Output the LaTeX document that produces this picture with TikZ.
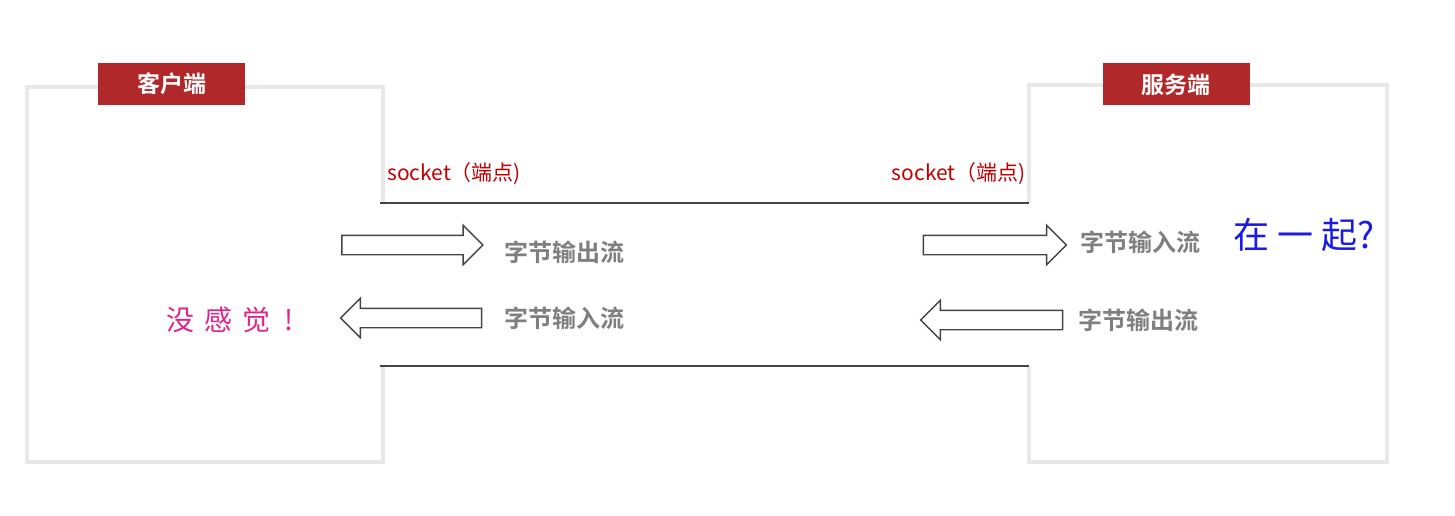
\documentclass[tikz,border=0pt]{standalone}
\usepackage{fontspec}
\setmainfont{Noto Sans CJK SC}
\newfontfamily\cjkbold{Noto Sans CJK SC Bold}
\newfontfamily\cjkmedium{Noto Sans CJK SC Medium}
\usetikzlibrary{positioning}
\usetikzlibrary{shapes.arrows}
\definecolor{titlered}{HTML}{B0282A}
\definecolor{socketred}{HTML}{C00000}
\definecolor{flowgray}{HTML}{7F7F7F}
\definecolor{linegray}{HTML}{444444}
\definecolor{handblue}{HTML}{1A1AE6}
\definecolor{handpink}{HTML}{E0248A}

\tikzset{
  titlebox/.style={rectangle, fill=titlered, text=white, font=\cjkbold\fontsize{23}{26}\selectfont,
    minimum width=147pt, minimum height=42pt, inner sep=0pt},
  frame/.style={draw=black!9, line width=4pt},
  channel/.style={draw=linegray, line width=1.6pt},
  socketlbl/.style={text=socketred, font=\fontsize{21}{24}\selectfont, inner sep=0pt},
  flowarrow/.style={single arrow, draw=linegray, line width=1.4pt, fill=white, inner xsep=0pt, inner ysep=9pt,
    minimum height=141pt, single arrow head extend=10pt},
  flowlbl/.style={text=flowgray, font=\cjkbold\fontsize{24}{26}\selectfont, inner sep=0pt},
}

\begin{document}
\begin{tikzpicture}[x=1pt, y=-1pt]

    \useasboundingbox (0,0) rectangle (1455,516);

    % Frames of both sides
    \draw[frame] (383,203) -- (383,87) -- (27,87) -- (27,462) -- (383,462) -- (383,366);
    \draw[frame] (1029,203) -- (1029,85) -- (1387,85) -- (1387,462) -- (1029,462) -- (1029,366);

    % Titles
    \node[titlebox] (client) at (171.5,84) {客户端};
    \node[titlebox] (server) at (1176,84.5) {服务端};

    % Socket channel
    \coordinate (ctop) at (380,203);
    \coordinate (stop) at (1029,203);
    \coordinate (cbot) at (380,366);
    \coordinate (sbot) at (1029,366);
    \draw[channel] (ctop) -- (stop);
    \draw[channel] (cbot) -- (sbot);

    \node[socketlbl, anchor=south west] (csocket) at ([xshift=7pt, yshift=18pt]ctop) {socket（端点)};
    \node[socketlbl, anchor=south east] (ssocket) at ([xshift=-3pt, yshift=18pt]stop) {socket（端点)};

    % Client streams
    \node[flowarrow] (cout) at (407.5,245) {};
    \node[flowarrow, shape border rotate=180] (cin) at (416,318) {};
    \node[flowlbl, right=20pt of cout, yshift=-7pt] (coutlbl) {字节输出流};
    \node[flowlbl, right=22pt of cin] (cinlbl) {字节输入流};

    % Server streams
    \node[flowarrow, minimum height=143pt] (sin) at (990,245) {};
    \node[flowarrow, minimum height=142pt, shape border rotate=180] (sout) at (996.5,320) {};
    \node[flowlbl, right=13pt of sin, yshift=3pt] (sinlbl) {字节输入流};
    \node[flowlbl, right=15pt of sout] (soutlbl) {字节输出流};

    % Remarks
    \node[text=handblue, font=\fontsize{36}{40}\selectfont] (together) at (1304,235) {在\hspace{8pt}一\hspace{8pt}起?};
    \node[text=handpink, font=\fontsize{28}{32}\selectfont] (nofeel) at (230,320) {没\hspace{10pt}感\hspace{10pt}觉\hspace{14pt}!};

\end{tikzpicture}
\end{document}
